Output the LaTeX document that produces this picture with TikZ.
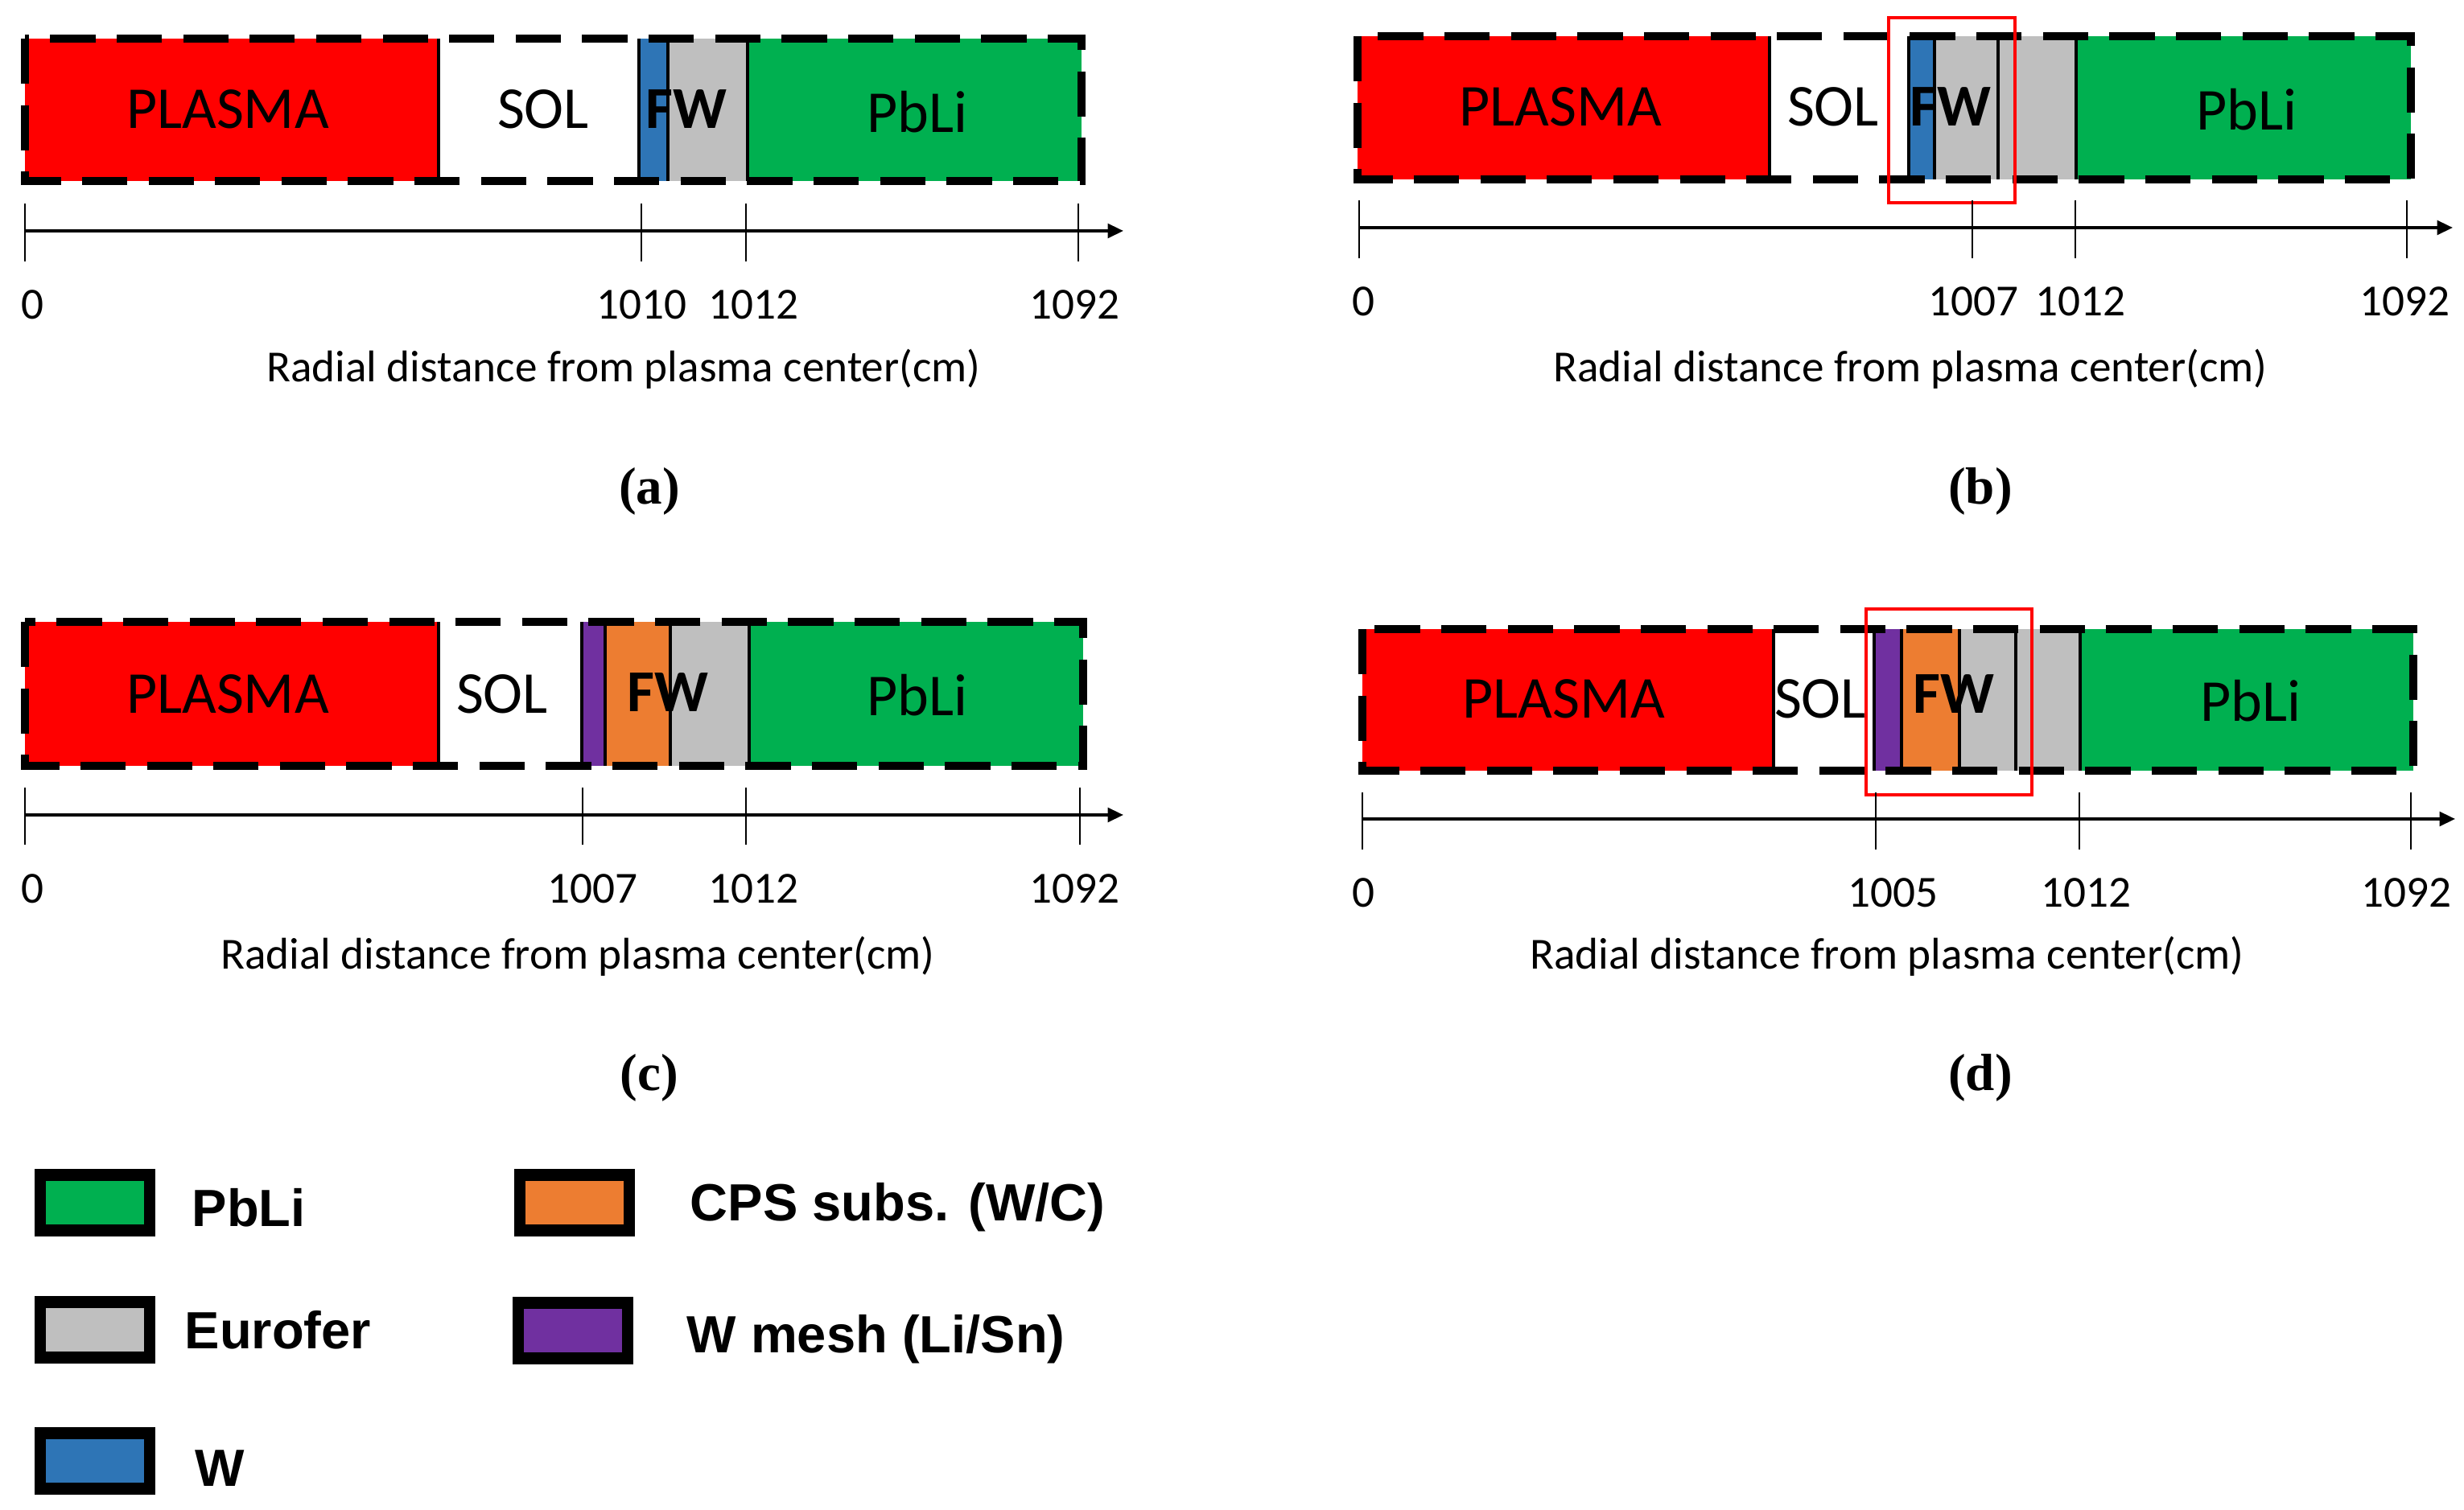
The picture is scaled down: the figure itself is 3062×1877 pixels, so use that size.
\documentclass[tikz,border=0pt]{standalone}
\usepackage{fontspec}
\setmainfont{Carlito}
\newfontfamily\legfont{Liberation Sans}
\newfontfamily\capfont{Liberation Serif}
\usetikzlibrary{positioning,arrows.meta}
\definecolor{plasmared}{HTML}{FF0000}
\definecolor{wblue}{HTML}{2E75B6}
\definecolor{eurogray}{HTML}{BFBFBF}
\definecolor{pbligreen}{HTML}{00B050}
\definecolor{cpsorange}{HTML}{ED7D31}
\definecolor{meshpurple}{HTML}{7030A0}

\begin{document}
\begin{tikzpicture}[x=0.01cm, y=-0.01cm,
    frame/.style={line width=2.6pt, dash pattern=on 16pt off 7.5pt},
    sep/.style={line width=1.4pt},
    axis/.style={line width=1pt, -{Triangle[length=5.5pt, width=5pt]}},
    tick/.style={line width=0.6pt},
    region/.style={anchor=base, inner sep=0pt, font=\fontsize{21}{21}\selectfont},
    fwtext/.style={region, font=\fontsize{21}{21}\selectfont\bfseries},
    num/.style={anchor=base, inner sep=0pt, font=\fontsize{15.7}{16}\selectfont},
    panel/.style={font=\capfont\fontsize{18.5}{18.5}\selectfont\bfseries},
    zoombox/.style={draw=plasmared, line width=0.9pt},
    swatch/.style={draw=black, line width=4.2pt, inner sep=0pt,
                   minimum width=1.36cm, minimum height=0.69cm},
    legtext/.style={anchor=base west, inner sep=0pt,
                    font=\legfont\bfseries\fontsize{18.5}{19}\selectfont}]
  \useasboundingbox (0,0) rectangle (3062,1877);

  % (a)
  \fill[plasmared] (31,48) rectangle (545,225);
  \fill[wblue] (794,48) rectangle (830,225);
  \fill[eurogray] (830,48) rectangle (929,225);
  \fill[pbligreen] (929,48) rectangle (1344,225);
  \foreach \s in {545,794,830,929} \draw[sep] (\s,48) -- (\s,225);
  \draw[frame] (31,48) rectangle (1344,225);
  \node[region] (aplasma) at (283,160) {PLASMA};
  \node[region] (asol) at (675,160) {SOL};
  \node[fwtext] (afw) at (853,160) {FW};
  \node[region] (apbli) at (1140,165) {PbLi};
  \coordinate (aorigin) at (31,287);
  \coordinate (aend) at (1396,287);
  \draw[axis] (aorigin) -- (aend);
  \foreach \t in {31,797,927,1340} \draw[tick] (\t,253) -- (\t,325);
  \node[num] (a0) at (40,397) {0};
  \node[num] (a1010) at (797,397) {1010};
  \node[num] (a1012) at (936,397) {1012};
  \node[num] (a1092) at (1335,397) {1092};
  \node[num] (atitle) at (775,475) {Radial distance from plasma center(cm)};
  \node[panel] (acap) at (807,611) {(a)};

  % (b)
  \fill[plasmared] (1687,45) rectangle (2199,223);
  \fill[wblue] (2372,45) rectangle (2404,223);
  \fill[eurogray] (2404,45) rectangle (2580,223);
  \fill[pbligreen] (2580,45) rectangle (2996,223);
  \foreach \s in {2199,2372,2404,2483,2580} \draw[sep] (\s,45) -- (\s,223);
  \draw[frame] (1687,45) rectangle (2996,223);
  \node[region] (bplasma) at (1939,157) {PLASMA};
  \node[region] (bsol) at (2278,157) {SOL};
  \node[fwtext] (bfw) at (2424,157) {FW};
  \node[region] (bpbli) at (2792,162) {PbLi};
  \draw[zoombox] (2347,22) rectangle (2504,252);
  \coordinate (borigin) at (1689,283);
  \coordinate (bend) at (3048,283);
  \draw[axis] (borigin) -- (bend);
  \foreach \t in {1689,2451,2579,2991} \draw[tick] (\t,249) -- (\t,321);
  \node[num] (b0) at (1694,393) {0};
  \node[num] (b1007) at (2452,393) {1007};
  \node[num] (b1012) at (2585,393) {1012};
  \node[num] (b1092) at (2988,393) {1092};
  \node[num] (btitle) at (2374,475) {Radial distance from plasma center(cm)};
  \node[panel] (bcap) at (2461,611) {(b)};

  % (c)
  \fill[plasmared] (31,773) rectangle (545,952);
  \fill[meshpurple] (723,773) rectangle (752,952);
  \fill[cpsorange] (752,773) rectangle (833,952);
  \fill[eurogray] (833,773) rectangle (931,952);
  \fill[pbligreen] (931,773) rectangle (1346,952);
  \foreach \s in {545,723,752,833,931} \draw[sep] (\s,773) -- (\s,952);
  \draw[frame] (31,773) rectangle (1346,952);
  \node[region] (cplasma) at (283,887) {PLASMA};
  \node[region] (csol) at (624,887) {SOL};
  \node[fwtext] (cfw) at (830,885) {FW};
  \node[region] (cpbli) at (1140,890) {PbLi};
  \coordinate (corigin) at (31,1013);
  \coordinate (cend) at (1396,1013);
  \draw[axis] (corigin) -- (cend);
  \foreach \t in {31,724,927,1342} \draw[tick] (\t,979) -- (\t,1050);
  \node[num] (c0) at (40,1123) {0};
  \node[num] (c1007) at (736,1123) {1007};
  \node[num] (c1012) at (936,1123) {1012};
  \node[num] (c1092) at (1335,1123) {1092};
  \node[num] (ctitle) at (718,1205) {Radial distance from plasma center(cm)};
  \node[panel] (ccap) at (807,1340) {(c)};

  % (d)
  \fill[plasmared] (1693,782) rectangle (2204,958);
  \fill[meshpurple] (2329,782) rectangle (2363,958);
  \fill[cpsorange] (2363,782) rectangle (2435,958);
  \fill[eurogray] (2435,782) rectangle (2585,958);
  \fill[pbligreen] (2585,782) rectangle (2999,958);
  \foreach \s in {2204,2329,2363,2435,2505,2585} \draw[sep] (\s,782) -- (\s,958);
  \draw[frame] (1693,782) rectangle (2999,958);
  \node[region] (dplasma) at (1943,893) {PLASMA};
  \node[region] (dsol) at (2262,893) {SOL};
  \node[fwtext] (dfw) at (2428,887) {FW};
  \node[region] (dpbli) at (2797,897) {PbLi};
  \draw[zoombox] (2319,757) rectangle (2525,988);
  \coordinate (dorigin) at (1693,1018);
  \coordinate (dend) at (3051,1018);
  \draw[axis] (dorigin) -- (dend);
  \foreach \t in {1693,2331,2584,2996} \draw[tick] (\t,985) -- (\t,1056);
  \node[num] (d0) at (1694,1128) {0};
  \node[num] (d1005) at (2352,1128) {1005};
  \node[num] (d1012) at (2592,1128) {1012};
  \node[num] (d1092) at (2990,1128) {1092};
  \node[num] (dtitle) at (2345,1205) {Radial distance from plasma center(cm)};
  \node[panel] (dcap) at (2461,1340) {(d)};

  % legend
  \node[swatch, fill=pbligreen] (kpbli) at (118,1495) {};
  \node[swatch, fill=eurogray] (keuro) at (118,1653) {};
  \node[swatch, fill=wblue] (kw) at (118,1816) {};
  \node[swatch, fill=cpsorange] (kcps) at (714,1495) {};
  \node[swatch, fill=meshpurple] (kmesh) at (712,1654) {};
  \node[legtext] (lpbli) at (238,1525) {PbLi};
  \node[legtext] (leuro) at (229,1677) {Eurofer};
  \node[legtext] (lw) at (242,1848) {W};
  \node[legtext] (lcps) at (857,1518) {CPS subs. (W/C)};
  \node[legtext] (lmesh) at (853,1682) {W mesh (Li/Sn)};
\end{tikzpicture}
\end{document}
